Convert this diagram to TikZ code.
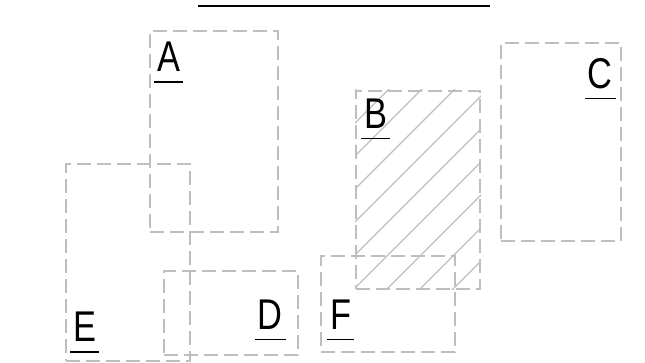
\documentclass[tikz,border=0pt]{standalone}
\usepackage{fontspec}
\newfontfamily\lblfont[FakeStretch=0.8]{Liberation Sans}
\usetikzlibrary{calc}
\definecolor{boxgray}{RGB}{190,190,190}
\tikzset{
  box/.style={draw=boxgray, line width=1.8pt, dash pattern=on 14pt off 6pt,
              rectangle, inner sep=0pt, anchor=north west},
  hatch/.style={draw=boxgray, line width=1.3pt},
  lbl/.style={font=\lblfont\fontsize{43}{43}\selectfont, inner xsep=3pt, inner ysep=0pt,
              text depth=10pt, text height=31pt},
  uline/.style={draw=black, line width=1.6pt},
  topline/.style={draw=black, line width=2pt}
}
\begin{document}
\begin{tikzpicture}[x=1pt,y=-1pt]
\useasboundingbox (0,0) rectangle (645,363);
% boxes
\node[box, minimum width=128pt, minimum height=201pt] (A) at (149,30) {};
\node[box, minimum width=124pt, minimum height=198pt] (B) at (355,90) {};
\node[box, minimum width=120pt, minimum height=198pt] (C) at (500,42) {};
\node[box, minimum width=134pt, minimum height=84pt]  (D) at (163,270) {};
\node[box, minimum width=124pt, minimum height=197pt] (E) at (65,163) {};
\node[box, minimum width=134pt, minimum height=96pt]  (F) at (320,255) {};
% hatching of B
\begin{scope}
  \clip (B.north west) rectangle (B.south east);
  \foreach \c in {445,478,...,780}
    \draw[hatch] (\c-300,300) -- (\c-80,80);
\end{scope}
% redraw B border over hatching
\node[box, minimum width=124pt, minimum height=198pt] (B2) at (355,90) {};
% top line
\coordinate (t1) at (198,6);
\coordinate (t2) at (490,6);
\draw[topline] (t1) -- (t2);
% labels
\node[lbl, anchor=base west] (la) at (154,71.7) {A};
\node[lbl, anchor=base west] (lb) at (361,128.3) {B};
\node[lbl, anchor=base east] (lc) at (616,88.3) {C};
\node[lbl, anchor=base east] (ld) at (286,329.3) {D};
\node[lbl, anchor=base west] (le) at (70,341.7) {E};
\node[lbl, anchor=base west] (lf) at (327,329.3) {F};
\foreach \n in {la,lb,lc,ld,le,lf}
  \draw[uline] (\n.south west) -- (\n.south east);
\end{tikzpicture}
\end{document}
